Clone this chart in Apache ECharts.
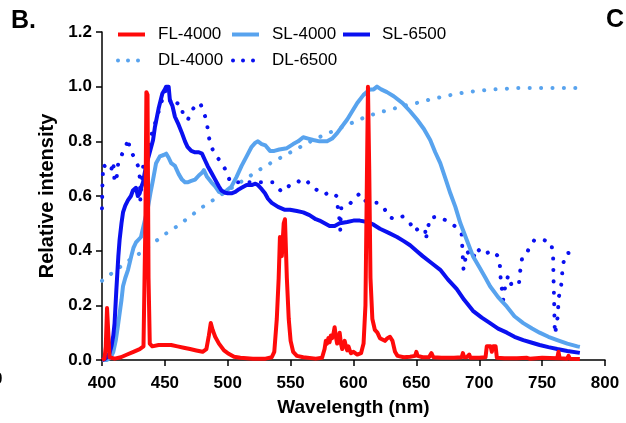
<!DOCTYPE html>
<html>
<head>
<meta charset="utf-8">
<script src="https://cdn.jsdelivr.net/npm/echarts@6/dist/echarts.min.js"></script>
<style>
html, body { margin: 0; padding: 0; background: #fff; }
#spectra { width: 626px; height: 423px; }
</style>
</head>
<body>
<div id="spectra"></div>
<script>
// spectra of the light sources, [wavelength nm, relative intensity]
var fl4000 = [
    [400, 0], [402, 0.005], [403, 0.05], [404, 0.19], [405, 0.1], [406, 0.01], [410, 0.005], [415, 0.01],
    [420, 0.02], [425, 0.03], [430, 0.04], [433, 0.05], [434.5, 0.5], [435.3, 0.98], [436.2, 0.97], [437, 0.3],
    [438, 0.06], [440, 0.05], [445, 0.055], [450, 0.055], [455, 0.055], [460, 0.05], [465, 0.045], [470, 0.04],
    [475, 0.035], [480, 0.03], [483, 0.04], [485, 0.09], [486.5, 0.135], [488, 0.11], [490, 0.085], [493, 0.06],
    [497, 0.035], [500, 0.025], [505, 0.012], [510, 0.008], [520, 0.005], [530, 0.005], [535, 0.01], [537, 0.03],
    [539, 0.15], [540.5, 0.3], [541.5, 0.45], [543, 0.38], [544.5, 0.5], [545.5, 0.515], [547, 0.3], [548.5, 0.15],
    [550, 0.07], [552, 0.03], [555, 0.015], [560, 0.01], [570, 0.005], [575, 0.008], [577, 0.04], [578, 0.07],
    [579, 0.06], [580, 0.08], [581, 0.065], [582, 0.09], [583, 0.08], [584, 0.095], [585, 0.12], [586, 0.085],
    [587, 0.06], [588, 0.07], [589, 0.1], [590, 0.06], [591, 0.04], [592, 0.045], [593, 0.07], [594, 0.05],
    [595, 0.035], [596, 0.05], [597, 0.035], [598, 0.025], [600, 0.03], [603, 0.02], [606, 0.025], [608, 0.06],
    [609.5, 0.2], [610.5, 0.6], [611.5, 1.0], [612.5, 0.7], [613.5, 0.3], [615, 0.15], [617, 0.11], [619, 0.1],
    [621, 0.08], [623, 0.075], [625, 0.07], [627, 0.08], [629, 0.085], [630, 0.09], [631, 0.07], [632, 0.075],
    [633, 0.03], [635, 0.015], [640, 0.01], [645, 0.012], [649, 0.015], [650, 0.03], [651, 0.015], [655, 0.01],
    [660, 0.01], [662, 0.025], [663.5, 0.01], [670, 0.008], [680, 0.008], [686, 0.01], [687, 0.025], [688, 0.01],
    [690, 0.01], [692, 0.02], [693, 0.008], [700, 0.008], [705, 0.01], [706, 0.05], [709, 0.05], [710, 0.03],
    [711, 0.05], [713, 0.05], [714, 0.008], [720, 0.006], [730, 0.006], [738, 0.008], [740, 0.005], [750, 0.008],
    [762, 0.006], [763, 0.03], [764, 0.006], [770, 0.005], [771, 0.015], [772, 0.005], [780, 0.004]
];

var sl4000 = [
    [400, 0], [404, 0], [407, 0.01], [409, 0.03], [411, 0.073], [412.5, 0.12], [414, 0.17], [415.5, 0.22],
    [416.7, 0.27], [418.5, 0.3], [420.7, 0.33], [423.3, 0.38], [425, 0.41], [427, 0.43], [429, 0.44], [431, 0.45],
    [434, 0.51], [436.6, 0.56], [438.5, 0.61], [440.6, 0.66], [443, 0.72], [446, 0.745], [449, 0.75], [451, 0.755],
    [453, 0.74], [455, 0.72], [458, 0.71], [461, 0.68], [463.6, 0.66], [466, 0.65], [468, 0.65], [471, 0.655],
    [474, 0.66], [477, 0.675], [479.5, 0.685], [481, 0.695], [483.5, 0.67], [487, 0.65], [490, 0.635], [493, 0.615],
    [496, 0.61], [499, 0.62], [503, 0.635], [507, 0.67], [511, 0.71], [515, 0.745], [519, 0.78], [522, 0.795],
    [524, 0.8], [527, 0.79], [530, 0.785], [533.6, 0.765], [537, 0.765], [541, 0.77], [547, 0.775], [552, 0.79],
    [556, 0.8], [560, 0.815], [564, 0.81], [568, 0.805], [573, 0.8], [579, 0.8], [583, 0.81], [587, 0.83],
    [591, 0.855], [595, 0.88], [599, 0.91], [603, 0.94], [608, 0.97], [613, 0.99], [616, 0.99], [618.7, 1.0],
    [622, 0.99], [626.6, 0.98], [632, 0.965], [639, 0.94], [645, 0.91], [650.5, 0.88], [656, 0.845], [661, 0.805],
    [665, 0.76], [669, 0.72], [673, 0.665], [677, 0.61], [681, 0.56], [685, 0.5], [690, 0.44], [695, 0.38],
    [700, 0.34], [705, 0.3], [708.6, 0.27], [715, 0.23], [722, 0.195], [728, 0.16], [735, 0.135], [742, 0.115],
    [748, 0.1], [755, 0.085], [762, 0.073], [770, 0.06], [778, 0.05], [780, 0.048]
];

var sl6500 = [
    [400, 0], [402, 0.003], [404, 0.01], [406, 0.025], [407.5, 0.05], [409, 0.09], [410, 0.135], [411.4, 0.256],
    [413, 0.38], [414, 0.44], [415.5, 0.5], [416.7, 0.54], [418.5, 0.565], [420.7, 0.585], [423, 0.6], [424.6, 0.62],
    [427, 0.63], [428.5, 0.6], [430, 0.61], [431, 0.63], [432.6, 0.65], [435, 0.71], [438, 0.76], [440.6, 0.805],
    [442, 0.85], [445, 0.92], [448, 0.975], [450, 0.99], [451, 1.0], [452, 0.995], [453, 1.0], [454, 0.95],
    [456, 0.93], [458, 0.89], [461, 0.86], [463.6, 0.83], [466, 0.8], [468, 0.78], [471, 0.765], [474, 0.76],
    [477, 0.76], [479.5, 0.755], [482, 0.73], [484, 0.71], [487, 0.685], [490, 0.66], [493, 0.635], [495, 0.62],
    [498, 0.612], [500, 0.61], [503, 0.61], [506, 0.615], [509, 0.625], [511, 0.63], [515, 0.64], [519, 0.64],
    [522, 0.645], [524, 0.64], [527, 0.625], [529.6, 0.61], [532, 0.59], [535, 0.575], [540, 0.56], [545, 0.55],
    [549.5, 0.55], [555, 0.545], [560, 0.54], [565, 0.53], [570, 0.515], [573, 0.51], [577, 0.5], [581, 0.49],
    [585, 0.49], [589, 0.5], [595, 0.505], [600, 0.51], [605, 0.51], [611, 0.505], [616, 0.495], [621, 0.48],
    [628, 0.465], [634.6, 0.45], [640, 0.435], [645, 0.42], [650, 0.4], [655, 0.38], [662, 0.355], [669, 0.33],
    [675, 0.295], [682, 0.26], [688, 0.22], [695, 0.18], [702, 0.155], [708.6, 0.135], [715, 0.115], [722, 0.1],
    [728, 0.085], [735, 0.073], [742, 0.063], [748, 0.055], [755, 0.047], [762, 0.04], [770, 0.033], [780, 0.026]
];

var dl4000 = [
    [400, 0.29], [410, 0.325], [420, 0.36], [430, 0.39], [440, 0.425], [450, 0.46], [460, 0.49], [470, 0.525],
    [480, 0.56], [490, 0.59], [500, 0.62], [510, 0.65], [520, 0.68], [530, 0.71], [540, 0.735], [550, 0.76],
    [560, 0.785], [570, 0.81], [580, 0.83], [590, 0.85], [600, 0.87], [610, 0.89], [620, 0.905], [630, 0.917],
    [640, 0.93], [650, 0.94], [660, 0.952], [670, 0.962], [680, 0.972], [690, 0.98], [700, 0.985], [710, 0.99],
    [720, 0.992], [730, 0.995], [740, 0.995], [750, 0.995], [760, 0.995], [770, 0.995], [780, 0.995]
];

var dl6500 = [
    [400, 0.555], [400.3, 0.635], [401, 0.715], [404, 0.7], [407, 0.69], [409, 0.725], [410, 0.65], [411.5, 0.66],
    [413, 0.725], [416.7, 0.76], [419, 0.78], [420.7, 0.81], [422, 0.775], [424.6, 0.75], [427, 0.73], [428.6, 0.71],
    [430, 0.67], [430.5, 0.585], [431.5, 0.65], [433, 0.72], [435, 0.745], [438, 0.805], [440.5, 0.84], [444.5, 0.9],
    [447.7, 0.95], [450, 0.985], [452, 0.98], [455.7, 0.93], [459.6, 0.94], [463.6, 0.93], [464.4, 0.89], [468.4, 0.88],
    [471.6, 0.915], [475.5, 0.935], [478, 0.94], [480.3, 0.915], [483.5, 0.87], [484.3, 0.83], [486, 0.795], [488, 0.77],
    [491, 0.745], [495.4, 0.72], [499.4, 0.685], [502, 0.65], [511, 0.65], [524, 0.65], [532, 0.65], [536, 0.65],
    [543, 0.615], [549.5, 0.64], [556, 0.655], [560, 0.64], [564, 0.65], [568, 0.63], [577, 0.605], [581, 0.615],
    [586.5, 0.6], [587.6, 0.555], [589, 0.51], [589.5, 0.475], [590, 0.555], [593, 0.555], [599, 0.58], [605, 0.61],
    [610, 0.58], [615.5, 0.575], [619.5, 0.575], [625, 0.55], [627.4, 0.525], [633, 0.515], [639, 0.525], [645, 0.5],
    [649, 0.47], [651, 0.48], [657, 0.48], [657.5, 0.44], [659, 0.48], [661, 0.52], [667, 0.525], [674, 0.51],
    [680.6, 0.49], [686, 0.46], [686.5, 0.415], [687, 0.37], [687.5, 0.33], [689, 0.37], [690, 0.4], [693, 0.38],
    [695, 0.37], [698, 0.41], [703, 0.385], [710, 0.4], [715, 0.38], [716.6, 0.34], [717, 0.3], [718, 0.26],
    [719, 0.22], [720.5, 0.265], [723, 0.31], [726, 0.27], [728.6, 0.275], [731.6, 0.28], [732.4, 0.32], [734, 0.37],
    [737, 0.38], [739.6, 0.41], [744, 0.44], [750.7, 0.44], [757, 0.43], [758.7, 0.39], [759, 0.31], [759.5, 0.225],
    [760, 0.12], [760.3, 0.095], [762.6, 0.165], [763, 0.225], [765, 0.265], [766.6, 0.35], [769, 0.39], [775, 0.395]
];

var xTicks = { min: 400, max: 800, step: 50 };
var yTicks = { min: 0, max: 1.2, step: 0.2 };

var dom = document.getElementById('spectra');
var myChart = echarts.init(dom, null, { renderer: 'canvas' });

var FONT = 'Liberation Sans, Arial, sans-serif';
var RED = '#ff0a0a';
var LIGHT = '#58a3ee';
var DARK = '#0a10f0';
var DOTS = 'path://M0,2A2,2,0,1,1,4,2A2,2,0,1,1,0,2ZM10,2A2,2,0,1,1,14,2A2,2,0,1,1,10,2ZM20,2A2,2,0,1,1,24,2A2,2,0,1,1,20,2Z';

function legendItem(name, left, top, icon, w, pad) {
    return {
        data: [name],
        left: left,
        top: top,
        padding: 0,
        icon: icon,
        itemWidth: w,
        itemHeight: 4,
        selectedMode: false,
        itemStyle: { borderWidth: 0 },
        textStyle: { fontSize: 17, color: '#000', fontFamily: FONT, padding: [0, 0, 0, pad] }
    };
}

function dotted(color) {
    return { color: color, width: 4, type: [0.1, 11.3], cap: 'round', join: 'round' };
}

var option = {
    animation: false,
    backgroundColor: '#fff',
    grid: { left: 102, right: 21, top: 32, bottom: 63, containLabel: false },
    legend: [
        legendItem('FL-4000', 118, 26, 'rect', 27, 8),
        legendItem('SL-4000', 232, 26, 'rect', 27, 8),
        legendItem('SL-6500', 343, 26, 'rect', 27, 7),
        legendItem('DL-4000', 116, 52, DOTS, 24, 13),
        legendItem('DL-6500', 231, 52, DOTS, 24, 12)
    ],
    graphic: [
        { type: 'text', left: 11, top: 9, style: { text: 'B.', font: 'bold 25px ' + FONT, fill: '#000' } },
        { type: 'text', left: 606, top: 8, style: { text: 'C', font: 'bold 25px ' + FONT, fill: '#000' } },
        { type: 'text', left: -7, top: 371, style: { text: '0', font: 'bold 17px ' + FONT, fill: '#000' } }
    ],
    xAxis: {
        type: 'value',
        min: xTicks.min,
        max: xTicks.max,
        interval: xTicks.step,
        name: 'Wavelength (nm)',
        nameLocation: 'middle',
        nameGap: 38,
        nameTextStyle: { fontSize: 19, fontWeight: 'bold', color: '#000', fontFamily: FONT },
        splitLine: { show: false },
        axisLine: { lineStyle: { color: '#000', width: 1.5 } },
        axisTick: { length: 6, lineStyle: { color: '#000', width: 1.5 } },
        axisLabel: { fontSize: 17, fontWeight: 'bold', color: '#000', fontFamily: FONT, margin: 15 }
    },
    yAxis: {
        type: 'value',
        min: yTicks.min,
        max: yTicks.max,
        interval: yTicks.step,
        name: 'Relative intensity',
        nameLocation: 'middle',
        nameGap: 45,
        nameTextStyle: { fontSize: 20, fontWeight: 'bold', color: '#000', fontFamily: FONT },
        splitLine: { show: false },
        axisLine: { show: true, lineStyle: { color: '#000', width: 1.5 } },
        axisTick: { show: true, length: 6, lineStyle: { color: '#000', width: 1.5 } },
        axisLabel: {
            fontSize: 17, fontWeight: 'bold', color: '#000', fontFamily: FONT, margin: 10,
            formatter: function (v) { return v.toFixed(1); }
        }
    },
    series: [
        { name: 'DL-4000', type: 'line', data: dl4000, symbol: 'none', color: LIGHT, lineStyle: dotted(LIGHT) },
        { name: 'DL-6500', type: 'line', data: dl6500, symbol: 'none', color: DARK, lineStyle: dotted(DARK) },
        { name: 'SL-4000', type: 'line', data: sl4000, symbol: 'none', color: LIGHT, lineStyle: { color: LIGHT, width: 4, join: 'round' } },
        { name: 'SL-6500', type: 'line', data: sl6500, symbol: 'none', color: DARK, lineStyle: { color: DARK, width: 4, join: 'round' } },
        { name: 'FL-4000', type: 'line', data: fl4000, symbol: 'none', color: RED, lineStyle: { color: RED, width: 4, join: 'round' } }
    ]
};

if (option && typeof option === 'object') {
    myChart.setOption(option);
}
</script>
</body>
</html>
